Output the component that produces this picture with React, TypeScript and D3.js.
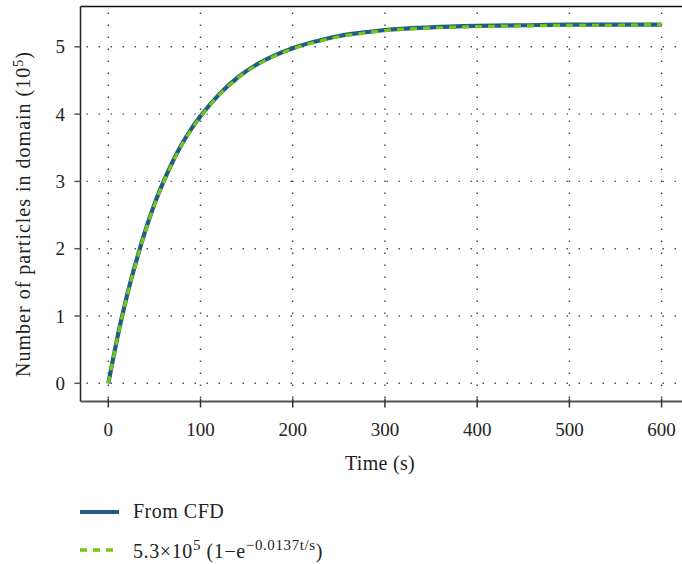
import React, { useRef, useEffect } from 'react';
import * as d3 from 'd3';

// time in seconds
const cfdTime = [0, 5, 10, 15, 20, 30, 40, 50, 60, 70, 80, 90, 100, 120, 140, 160, 180, 200, 225, 250, 275, 300, 350, 400, 450, 500, 550, 600];
// particles in domain (10^5)
const cfdCount = [0, 0.35, 0.69, 1.0, 1.29, 1.8, 2.26, 2.66, 3.0, 3.3, 3.56, 3.78, 3.97, 4.29, 4.54, 4.73, 4.87, 4.98, 5.08, 5.16, 5.21, 5.25, 5.29, 5.31, 5.32, 5.33, 5.33, 5.33];
const fitTime = cfdTime;
const fitCount = [0, 0.35, 0.68, 0.99, 1.28, 1.79, 2.25, 2.65, 2.99, 3.29, 3.55, 3.77, 3.96, 4.28, 4.53, 4.72, 4.86, 4.97, 5.07, 5.15, 5.2, 5.24, 5.28, 5.3, 5.31, 5.32, 5.32, 5.33];

const xTicks = [0, 100, 200, 300, 400, 500, 600];
const yTicks = [0, 1, 2, 3, 4, 5];

const BLUE = '#1d5d87';
const GREEN = '#78c514';
const FONT = '"Liberation Serif", "DejaVu Serif", serif';

const Chart = () => {
  const svgRef = useRef(null);

  useEffect(() => {
    const svg = d3.select(svgRef.current);
    svg.selectAll('*').remove();

    const width = 682;
    const height = 564;
    const left = 80.5;
    const top = 6.5;
    const bottom = 401.5;

    const x = d3.scaleLinear().domain([0, 600]).range([108.3, 661.6]);
    const y = d3.scaleLinear().domain([0, 5]).range([383.3, 46.8]);

    // grid
    const grid = svg.append('g').attr('stroke', '#444').attr('stroke-width', 1.4)
      .attr('stroke-dasharray', '1.4,10.6');
    xTicks.forEach(t => {
      grid.append('line').attr('x1', x(t)).attr('x2', x(t)).attr('y1', top + 6).attr('y2', bottom);
    });
    yTicks.forEach(t => {
      grid.append('line').attr('x1', left + 6).attr('x2', width).attr('y1', y(t)).attr('y2', y(t));
    });

    // frame
    svg.append('line').attr('x1', left).attr('x2', width).attr('y1', top).attr('y2', top)
      .attr('stroke', '#111').attr('stroke-width', 1.5);
    svg.append('line').attr('x1', left).attr('x2', left).attr('y1', top).attr('y2', bottom)
      .attr('stroke', '#222').attr('stroke-width', 1.5);
    svg.append('line').attr('x1', left).attr('x2', width).attr('y1', bottom).attr('y2', bottom)
      .attr('stroke', '#555').attr('stroke-width', 2.2);

    // ticks
    xTicks.forEach(t => {
      svg.append('line').attr('x1', x(t)).attr('x2', x(t)).attr('y1', bottom - 3).attr('y2', bottom + 6)
        .attr('stroke', '#333').attr('stroke-width', 1.5);
      svg.append('text').attr('x', x(t)).attr('y', 436).attr('text-anchor', 'middle')
        .attr('font-family', FONT).attr('font-size', 19).attr('fill', '#222').text(t);
    });
    yTicks.forEach(t => {
      svg.append('line').attr('x1', left - 6).attr('x2', left).attr('y1', y(t)).attr('y2', y(t))
        .attr('stroke', '#555').attr('stroke-width', 1.5);
      svg.append('text').attr('x', 65).attr('y', y(t) + 6.5).attr('text-anchor', 'end')
        .attr('font-family', FONT).attr('font-size', 19).attr('fill', '#222').text(t);
    });

    // curves
    const cfdPts = cfdTime.map((t, i) => [x(t), y(cfdCount[i])] as [number, number]);
    const fitPts = fitTime.map((t, i) => [x(t), y(fitCount[i])] as [number, number]);
    const lineP = d3.line().curve(d3.curveMonotoneX);
    svg.append('path').attr('d', lineP(cfdPts)).attr('fill', 'none')
      .attr('stroke', BLUE).attr('stroke-width', 4.2);
    svg.append('path').attr('d', lineP(fitPts)).attr('fill', 'none')
      .attr('stroke', GREEN).attr('stroke-width', 3.2).attr('stroke-dasharray', '7,6');

    // axis labels
    svg.append('text').attr('x', 380).attr('y', 470).attr('text-anchor', 'middle')
      .attr('font-family', FONT).attr('font-size', 20).attr('letter-spacing', 0.3)
      .attr('fill', '#222').text('Time (s)');
    const yl = svg.append('text').attr('transform', 'translate(30,214) rotate(-90)')
      .attr('text-anchor', 'middle').attr('font-family', FONT).attr('font-size', 20)
      .attr('letter-spacing', 1.0).attr('fill', '#222');
    yl.append('tspan').text('Number of particles in domain (10');
    yl.append('tspan').attr('dy', -7).attr('font-size', 14).text('5');
    yl.append('tspan').attr('dy', 7).text(')');

    // legend
    svg.append('line').attr('x1', 80).attr('x2', 119).attr('y1', 512).attr('y2', 512)
      .attr('stroke', BLUE).attr('stroke-width', 4);
    svg.append('text').attr('x', 133).attr('y', 518).attr('font-family', FONT).attr('font-size', 20)
      .attr('letter-spacing', 0.5).attr('fill', '#222').text('From CFD');
    svg.append('line').attr('x1', 80).attr('x2', 119).attr('y1', 550).attr('y2', 550)
      .attr('stroke', GREEN).attr('stroke-width', 3.4).attr('stroke-dasharray', '7,6');
    const lg = svg.append('text').attr('x', 133).attr('y', 558).attr('font-family', FONT)
      .attr('font-size', 20).attr('letter-spacing', 0.6).attr('fill', '#222');
    lg.append('tspan').text('5.3×10');
    lg.append('tspan').attr('dy', -8).attr('font-size', 15).text('5');
    lg.append('tspan').attr('dy', 8).text(' (1−e');
    lg.append('tspan').attr('dy', -8).attr('font-size', 15).text('−0.0137t/s');
    lg.append('tspan').attr('dy', 8).text(')');

    svg.attr('width', width).attr('height', height);
  }, []);

  return <svg ref={svgRef} style={{ position: 'absolute', left: 0, top: 0, background: '#fff' }}></svg>;
};

export default function App() {
  return <Chart />;
}
